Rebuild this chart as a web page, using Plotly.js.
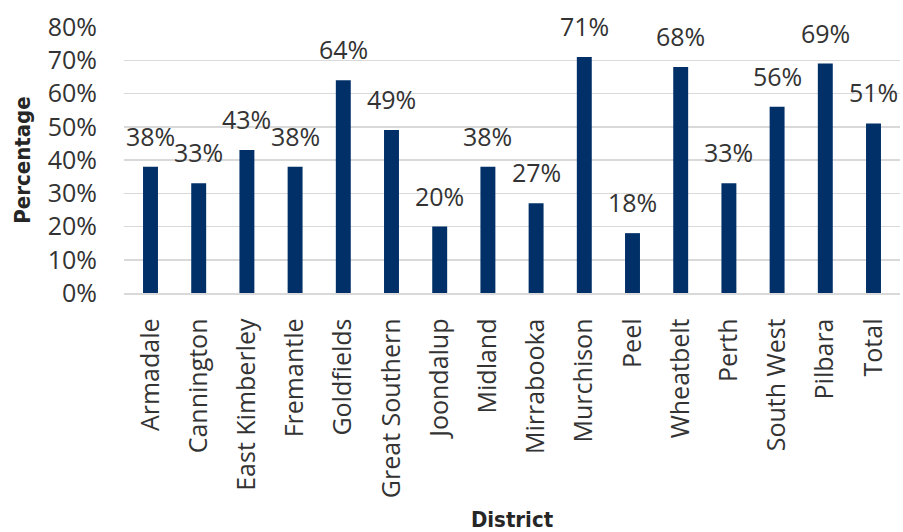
<!DOCTYPE html>
<html>
<head>
<meta charset="utf-8">
<script src="https://cdn.plot.ly/plotly-3.0.1.min.js"></script>
<style>
  html, body { margin: 0; padding: 0; background: #fff; }
  #chart { width: 903px; height: 532px; }
</style>
</head>
<body>
<div id="chart"></div>
<script>
// Share of respondents by district
const districts = ["Armadale", "Cannington", "East Kimberley", "Fremantle", "Goldfields",
  "Great Southern", "Joondalup", "Midland", "Mirrabooka", "Murchison", "Peel",
  "Wheatbelt", "Perth", "South West", "Pilbara", "Total"];
const percentages = [0.38, 0.33, 0.43, 0.38, 0.64, 0.49, 0.20, 0.38, 0.27, 0.71, 0.18,
  0.68, 0.33, 0.56, 0.69, 0.51];
const yTickValues = [0, 0.1, 0.2, 0.3, 0.4, 0.5, 0.6, 0.7, 0.8];

const labelFont = { family: "Open Sans, sans-serif", size: 25, color: "#333333" };
const titleFont = { family: "DejaVu Sans Condensed, sans-serif", size: 22, color: "#262626", weight: "bold" };

const trace = {
  type: "bar",
  x: districts,
  y: percentages,
  marker: { color: "#003067" },
  hoverinfo: "x+y"
};

// value labels sit a little above each bar
const valueLabels = districts.map((d, i) => ({
  x: d,
  y: percentages[i],
  xref: "x",
  yref: "y",
  text: Math.round(percentages[i] * 100) + "%",
  showarrow: false,
  yanchor: "bottom",
  yshift: 12,
  font: labelFont
}));

const layout = {
  width: 903,
  height: 532,
  margin: { l: 124, r: 3, t: 27, b: 239 },
  paper_bgcolor: "#fff",
  plot_bgcolor: "#fff",
  bargap: 0.69,
  showlegend: false,
  xaxis: {
    type: "category",
    tickangle: -90,
    tickfont: labelFont,
    ticks: "",
    ticklabelstandoff: 14,
    showgrid: false,
    showline: true,
    linecolor: "#d9d9d9",
    linewidth: 1.5,
    automargin: false,
    title: { text: "District", font: titleFont, standoff: 14 }
  },
  yaxis: {
    range: [0, 0.8],
    tickvals: yTickValues,
    tickformat: ".0%",
    tickfont: labelFont,
    ticks: "",
    ticklabelstandoff: 26,
    showgrid: true,
    gridcolor: "#d9d9d9",
    gridwidth: 1.5,
    zeroline: false,
    automargin: false,
    title: { text: "Percentage", font: titleFont, standoff: 11 }
  },
  annotations: valueLabels
};

Plotly.newPlot("chart", [trace], layout, { displayModeBar: false, staticPlot: true });
</script>
</body>
</html>
